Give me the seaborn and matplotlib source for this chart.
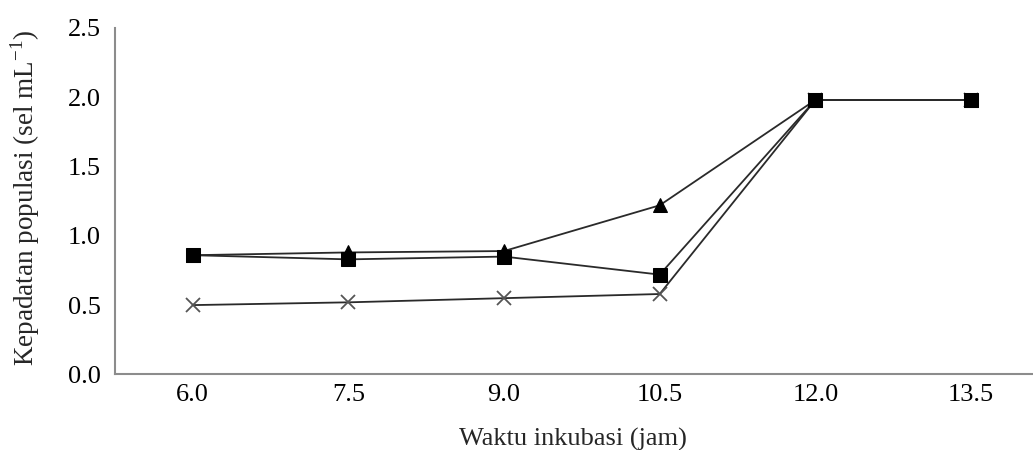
import pandas as pd
import matplotlib
matplotlib.use("Agg")
import matplotlib.pyplot as plt
import seaborn as sns

# Data
WAKTU = ["6.0", "7.5", "9.0", "10.5", "12.0", "13.5"]
SERI_SEGITIGA = [0.86, 0.88, 0.89, 1.22, 1.98, 1.98]
SERI_KOTAK = [0.86, 0.83, 0.85, 0.72, 1.98, 1.98]
SERI_SILANG = [0.50, 0.52, 0.55, 0.58, 1.98, 1.98]
Y_TICKS = [0.0, 0.5, 1.0, 1.5, 2.0, 2.5]


def build_frame():
    rows = []
    for name, vals in [("segitiga", SERI_SEGITIGA), ("kotak", SERI_KOTAK), ("silang", SERI_SILANG)]:
        for w, v in zip(WAKTU, vals):
            rows.append({"waktu": w, "nilai": v, "seri": name})
    return pd.DataFrame(rows)


def plot_chart(df):
    sns.set_style("white")
    plt.rcParams["font.family"] = ["Liberation Serif", "DejaVu Serif"]
    plt.rcParams["mathtext.fontset"] = "custom"
    plt.rcParams["mathtext.rm"] = "Liberation Serif"

    fig = plt.figure(figsize=(10.33, 4.5), dpi=100)
    ax = fig.add_axes([0.1113, 0.168, 0.904, 0.77])

    styles = {
        "segitiga": dict(marker="^", markersize=9.5, color="#2a2a2a", markeredgecolor="black", markerfacecolor="black"),
        "kotak": dict(marker="s", markersize=10.5, color="#2a2a2a", markeredgecolor="black", markerfacecolor="black"),
        "silang": dict(marker="x", markersize=10, color="#2a2a2a", markeredgecolor="#555555", markeredgewidth=1.3),
    }
    for name in ["silang", "segitiga", "kotak"]:
        sub = df[df["seri"] == name]
        sns.lineplot(data=sub, x="waktu", y="nilai", ax=ax, linewidth=1.3,
                     legend=False, **styles[name])

    ax.set_xlim(-0.5, len(WAKTU) - 0.5)
    ax.set_ylim(0, 2.5)
    ax.set_yticks(Y_TICKS)
    ax.set_yticklabels([f"{t:.1f}" for t in Y_TICKS])
    ax.set_xticks(range(len(WAKTU)))
    ax.set_xticklabels(WAKTU)
    ax.set_xticks([i - 0.5 for i in range(len(WAKTU) + 1)], minor=True)

    for side in ["top", "right"]:
        ax.spines[side].set_visible(False)
    for side in ["left", "bottom"]:
        ax.spines[side].set_color("#8c8c8c")
        ax.spines[side].set_linewidth(1.5)

    ax.tick_params(axis="x", which="major", length=0, labelsize=19, pad=7)
    ax.tick_params(axis="x", which="minor", length=6, width=1.5, color="#8c8c8c", direction="out")
    ax.tick_params(axis="y", which="major", length=7, width=1.5, color="#8c8c8c",
                   direction="out", labelsize=19, pad=3)
    ax.tick_params(axis="both", labelcolor="black")

    ax.set_xlabel("Waktu inkubasi (jam)", fontsize=19)
    ax.set_ylabel(r"Kepadatan populasi (sel mL$^{-1}$)", fontsize=19.5)
    ax.xaxis.set_label_coords(0.49, -0.155)
    ax.yaxis.set_label_coords(-0.078, 0.51)
    ax.grid(False)

    fig.savefig("out.png", dpi=100)


def main():
    df = build_frame()
    plot_chart(df)


if __name__ == "__main__":
    main()
